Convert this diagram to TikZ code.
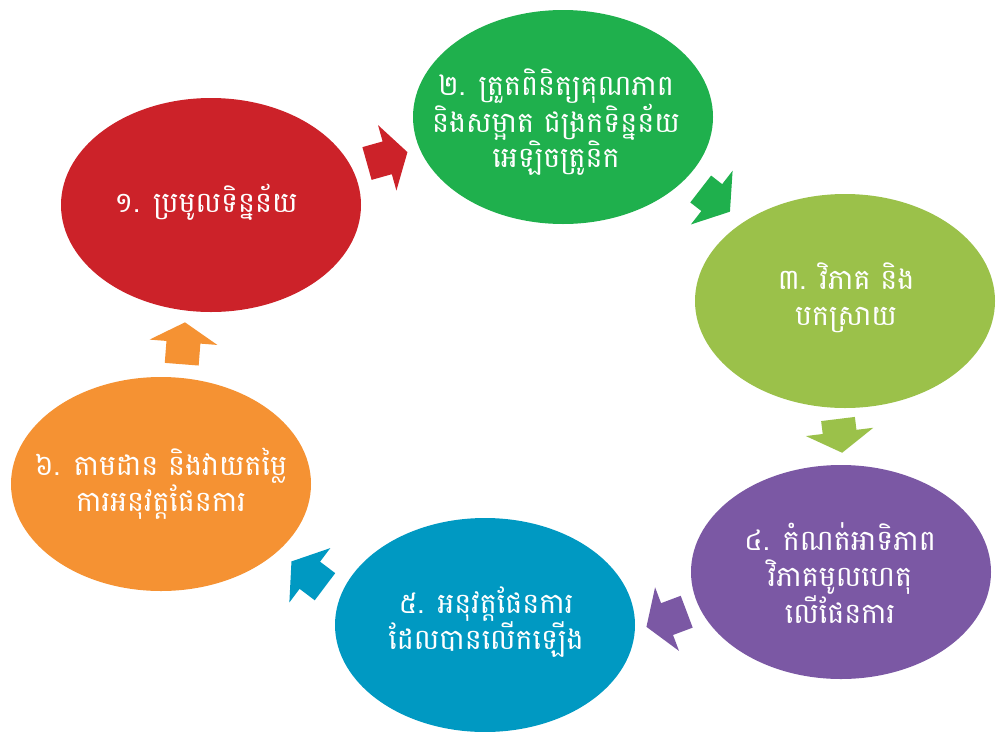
\documentclass[tikz,border=0pt]{standalone}
\usepackage{fontspec}
\newfontfamily\khmer[Script=Khmer]{Battambang}
\usetikzlibrary{shapes.geometric}
\definecolor{cred}{HTML}{CC2229}
\definecolor{cgreen}{HTML}{1FB04D}
\definecolor{clime}{HTML}{9BC14A}
\definecolor{cpurple}{HTML}{7B58A4}
\definecolor{cblue}{HTML}{0099C2}
\definecolor{corange}{HTML}{F59233}
\newcommand{\blockarr}[6]{% color, x, y, angle, head base, length
  \fill[#1, shift={(#2,#3)}, rotate=#4]
    (0,-17) -- (#5,-17) -- (#5,-34) -- (#6,0) -- (#5,34) -- (#5,17) -- (0,17) -- cycle;}
\begin{document}
\begin{tikzpicture}[x=1pt,y=-1pt,
  blob/.style={ellipse, minimum width=300pt, minimum height=214pt, inner sep=0pt, draw=none},
  label/.style={text=white, align=center, font=\khmer\fontsize{28.5}{35.5}\selectfont, inner sep=0pt}]
\useasboundingbox[fill=white] (0,0) rectangle (1001,731);
\node[blob, fill=cred]    (e1) at (211,205) {};
\node[blob, fill=cgreen]  (e2) at (563,117) {};
\node[blob, fill=clime]   (e3) at (845,301) {};
\node[blob, fill=cpurple] (e4) at (841,572) {};
\node[blob, fill=cblue]   (e5) at (485,625) {};
\node[blob, fill=corange] (e6) at (161,484) {};
\node[label] (t1) at (206,202) {១. ប្រមូលទិន្នន័យ};
\node[label] (t2) at (556,122) {២. ត្រួតពិនិត្យគុណភាព\\និងសម្អាត ជង្រកទិន្នន័យ\\អេឡិចត្រូនិក};
\node[label] (t3) at (846,298) {៣. វិភាគ និង\\បកស្រាយ};
\node[label] (t4) at (840,573) {៤. កំណត់អាទិភាព\\វិភាគមូលហេតុ\\លើផែនការ};
\node[label] (t5) at (486,622) {៥. អនុវត្តផែនការ\\ដែលបានលើកឡើង};
\node[label] (t6) at (161,484) {៦. តាមដាន និងវាយតម្លៃ\\ការអនុវត្តផែនការ};
\blockarr{cred}{367}{163.5}{15.7}{21}{42}
\blockarr{cgreen}{700.7}{189}{-37.8}{14}{37}
\blockarr{clime}{838}{419}{-83}{13}{34}
\blockarr{cpurple}{686.7}{611.7}{200.6}{21}{43}
\blockarr{cblue}{325}{586.7}{143}{19}{42}
\blockarr{corange}{181.7}{364.2}{85.5}{22}{42}
\end{tikzpicture}
\end{document}
